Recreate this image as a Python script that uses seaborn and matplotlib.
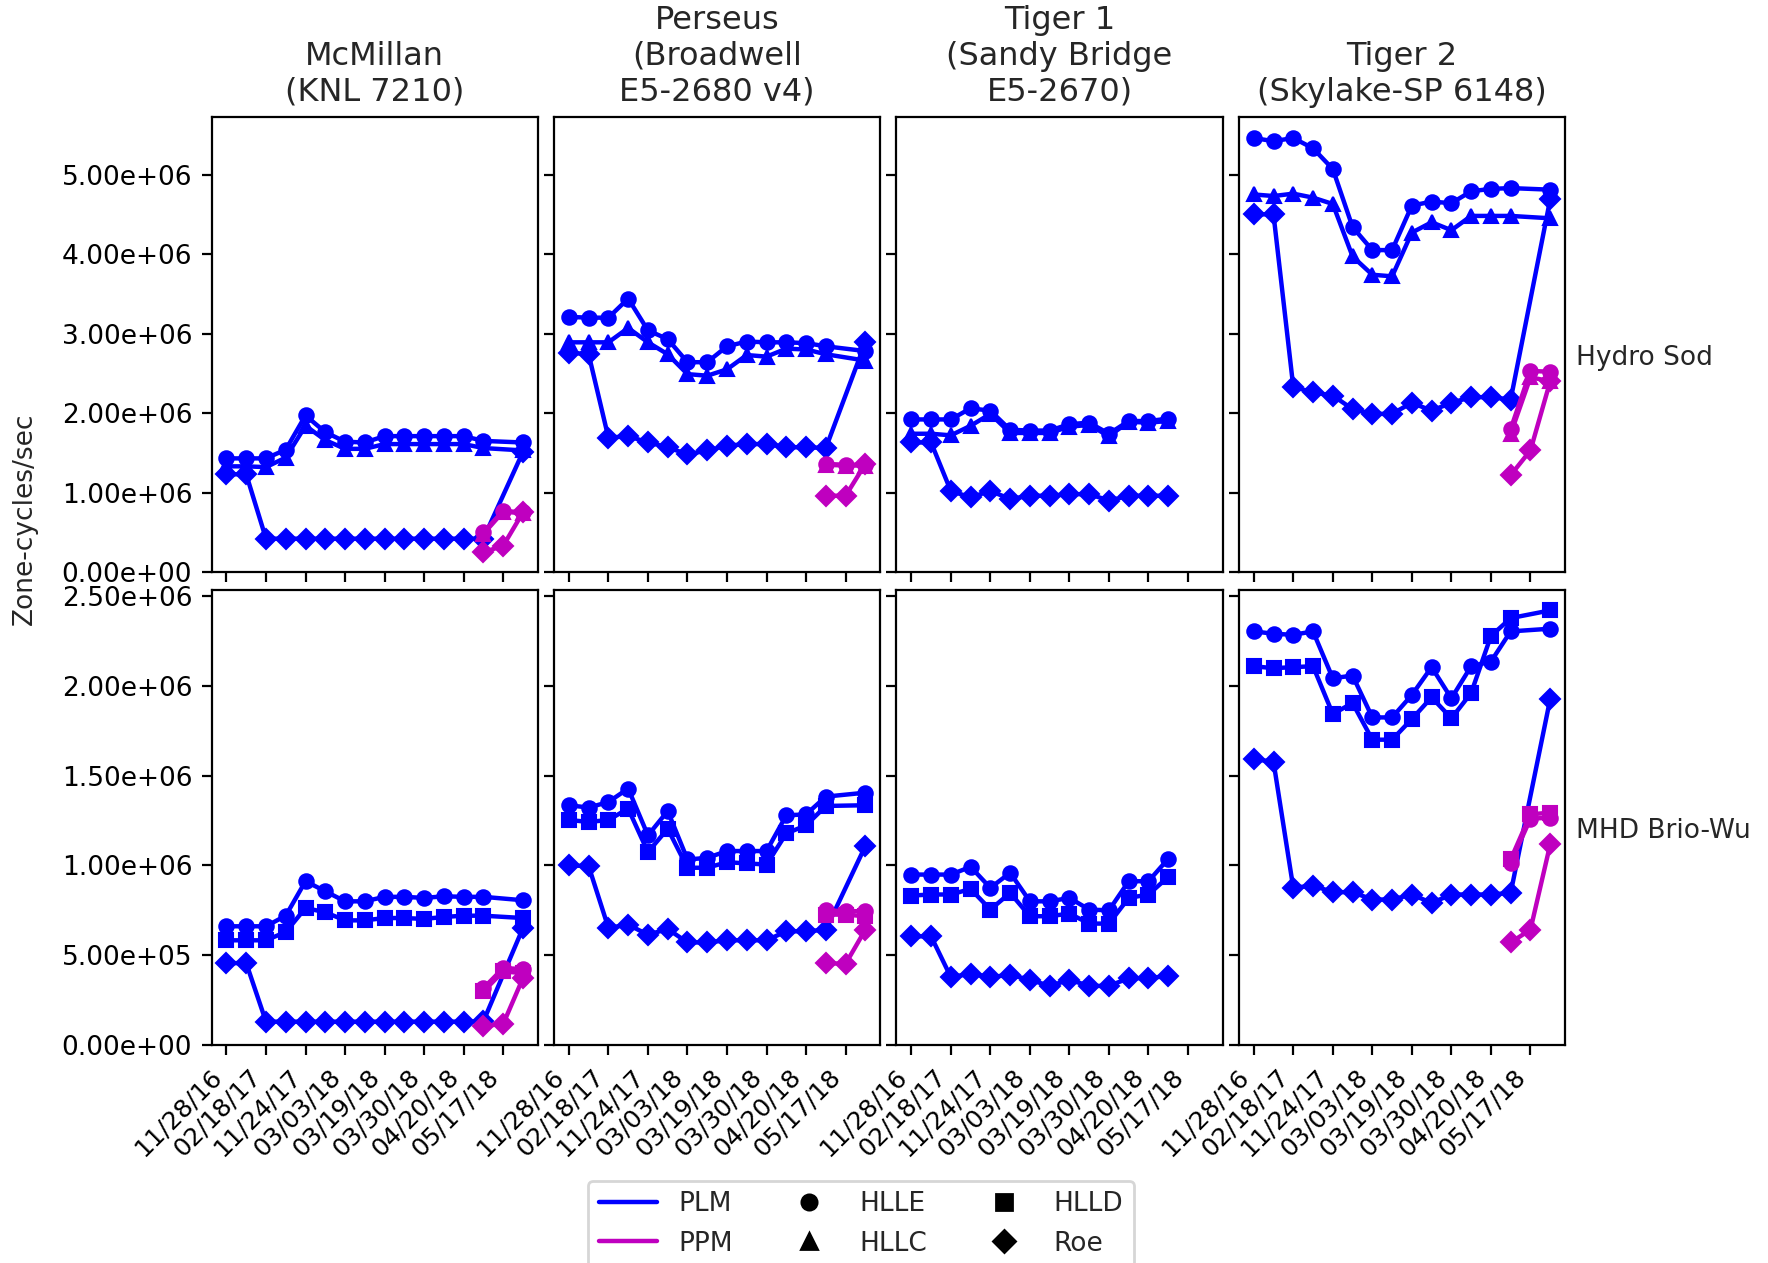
import numpy as np
import pandas as pd
import matplotlib
matplotlib.use('Agg')
import matplotlib.pyplot as plt
from matplotlib.lines import Line2D
from matplotlib.ticker import FormatStrFormatter
import seaborn as sns

## Data (values in 1e6 zone-cycles/sec), x = run index 0..15
x_pos       = list(range(16))
x_ppm       = [13, 14, 15]
tick_labels = ['11/28/16', '02/18/17', '11/24/17', '03/03/18',
               '03/19/18', '03/30/18', '04/20/18', '05/17/18']
machines    = ['McMillan\n(KNL 7210)', 'Perseus\n(Broadwell\nE5-2680 v4)',
               'Tiger 1\n(Sandy Bridge\nE5-2670)', 'Tiger 2\n(Skylake-SP 6148)']
problems    = ['Hydro Sod', 'MHD Brio-Wu']

# Hydro Sod
mcm_sod_plm_hlle = [1.43, 1.43, 1.43, 1.54, 1.97, 1.76, 1.64, 1.63, 1.71, 1.71, 1.71, 1.71, 1.71, 1.65, None, 1.63]
mcm_sod_plm_hllc = [1.33, 1.33, 1.32, 1.44, 1.84, 1.66, 1.55, 1.55, 1.61, 1.61, 1.61, 1.61, 1.61, 1.56, None, 1.53]
mcm_sod_plm_roe  = [1.23, 1.23, 0.42, 0.42, 0.42, 0.42, 0.42, 0.42, 0.42, 0.42, 0.42, 0.42, 0.42, 0.42, None, 1.51]
mcm_sod_ppm_hlle = [0.50, 0.77, 0.75]
mcm_sod_ppm_hllc = [0.48, 0.76, 0.74]
mcm_sod_ppm_roe  = [0.25, 0.33, 0.75]

per_sod_plm_hlle = [3.21, 3.20, 3.20, 3.44, 3.04, 2.93, 2.64, 2.64, 2.84, 2.90, 2.89, 2.89, 2.88, 2.84, None, 2.78]
per_sod_plm_hllc = [2.89, 2.89, 2.89, 3.07, 2.89, 2.74, 2.49, 2.47, 2.55, 2.73, 2.71, 2.81, 2.80, 2.74, None, 2.66]
per_sod_plm_roe  = [2.76, 2.74, 1.69, 1.71, 1.63, 1.57, 1.48, 1.53, 1.59, 1.61, 1.61, 1.57, 1.57, 1.56, None, 2.89]
per_sod_ppm_hlle = [1.36, 1.35, 1.35]
per_sod_ppm_hllc = [1.35, 1.34, 1.34]
per_sod_ppm_roe  = [0.96, 0.96, 1.36]

tg1_sod_plm_hlle = [1.92, 1.92, 1.92, 2.06, 2.03, 1.79, 1.78, 1.78, 1.86, 1.88, 1.74, 1.90, 1.90, 1.93, None, None]
tg1_sod_plm_hllc = [1.74, 1.74, 1.72, 1.84, 1.99, 1.75, 1.75, 1.75, 1.83, 1.85, 1.71, 1.89, 1.88, 1.90, None, None]
tg1_sod_plm_roe  = [1.63, 1.63, 1.02, 0.94, 1.02, 0.92, 0.96, 0.96, 0.98, 0.98, 0.90, 0.96, 0.96, 0.96, None, None]

tg2_sod_plm_hlle = [5.46, 5.42, 5.46, 5.33, 5.07, 4.34, 4.05, 4.05, 4.61, 4.66, 4.64, 4.79, 4.82, 4.83, None, 4.81]
tg2_sod_plm_hllc = [4.75, 4.73, 4.76, 4.71, 4.63, 3.97, 3.74, 3.72, 4.27, 4.40, 4.30, 4.48, 4.48, 4.48, None, 4.45]
tg2_sod_plm_roe  = [4.50, 4.50, 2.33, 2.26, 2.22, 2.05, 1.99, 1.99, 2.13, 2.03, 2.13, 2.20, 2.20, 2.17, None, 4.69]
tg2_sod_ppm_hlle = [1.80, 2.53, 2.52]
tg2_sod_ppm_hllc = [1.74, 2.45, 2.40]
tg2_sod_ppm_roe  = [1.22, 1.53, 2.40]

# MHD Brio-Wu
mcm_bw_plm_hlle = [0.661, 0.661, 0.661, 0.720, 0.912, 0.856, 0.800, 0.800, 0.825, 0.825, 0.819, 0.828, 0.825, 0.825, None, 0.806]
mcm_bw_plm_hlld = [0.583, 0.583, 0.583, 0.629, 0.763, 0.739, 0.694, 0.694, 0.707, 0.707, 0.702, 0.713, 0.720, 0.720, None, 0.707]
mcm_bw_plm_roe  = [0.456, 0.456, 0.130, 0.130, 0.130, 0.130, 0.130, 0.130, 0.130, 0.130, 0.130, 0.130, 0.130, 0.132, None, 0.651]
mcm_bw_ppm_hlle = [0.316, 0.428, 0.423]
mcm_bw_ppm_hlld = [0.298, 0.410, 0.400]
mcm_bw_ppm_roe  = [0.106, 0.117, 0.372]

per_bw_plm_hlle = [1.335, 1.322, 1.353, 1.428, 1.167, 1.303, 1.033, 1.042, 1.080, 1.080, 1.080, 1.279, 1.284, 1.383, None, 1.405]
per_bw_plm_hlld = [1.253, 1.242, 1.253, 1.316, 1.074, 1.204, 0.987, 0.987, 1.018, 1.011, 1.005, 1.178, 1.223, 1.331, None, 1.335]
per_bw_plm_roe  = [1.000, 0.996, 0.652, 0.670, 0.614, 0.646, 0.571, 0.571, 0.583, 0.583, 0.583, 0.633, 0.633, 0.642, None, 1.108]
per_bw_ppm_hlle = [0.750, 0.745, 0.745]
per_bw_ppm_hlld = [0.726, 0.726, 0.717]
per_bw_ppm_roe  = [0.456, 0.452, 0.642]

tg1_bw_plm_hlle = [0.949, 0.949, 0.949, 0.992, 0.875, 0.959, 0.800, 0.800, 0.819, 0.754, 0.750, 0.912, 0.912, 1.037, None, None]
tg1_bw_plm_hlld = [0.832, 0.838, 0.838, 0.869, 0.754, 0.847, 0.717, 0.717, 0.732, 0.676, 0.676, 0.819, 0.838, 0.936, None, None]
tg1_bw_plm_roe  = [0.605, 0.605, 0.378, 0.397, 0.378, 0.391, 0.363, 0.329, 0.363, 0.329, 0.329, 0.372, 0.372, 0.385, None, None]

tg2_bw_plm_hlle = [2.303, 2.290, 2.284, 2.303, 2.042, 2.057, 1.824, 1.824, 1.949, 2.104, 1.930, 2.109, 2.135, 2.303, None, 2.318]
tg2_bw_plm_hlld = [2.109, 2.098, 2.104, 2.109, 1.843, 1.904, 1.700, 1.700, 1.815, 1.936, 1.819, 1.960, 2.277, 2.377, None, 2.420]
tg2_bw_plm_roe  = [1.592, 1.577, 0.875, 0.888, 0.851, 0.851, 0.810, 0.810, 0.838, 0.791, 0.838, 0.838, 0.838, 0.847, None, 1.927]
tg2_bw_ppm_hlle = [1.015, 1.260, 1.266]
tg2_bw_ppm_hlld = [1.033, 1.284, 1.294]
tg2_bw_ppm_roe  = [0.571, 0.642, 1.117]

## Panels: (row, col) -> list of (recon, solver, values)
panels = {
    (0, 0): [('PLM', 'HLLE', mcm_sod_plm_hlle), ('PLM', 'HLLC', mcm_sod_plm_hllc), ('PLM', 'Roe', mcm_sod_plm_roe),
             ('PPM', 'HLLE', mcm_sod_ppm_hlle), ('PPM', 'HLLC', mcm_sod_ppm_hllc), ('PPM', 'Roe', mcm_sod_ppm_roe)],
    (0, 1): [('PLM', 'HLLE', per_sod_plm_hlle), ('PLM', 'HLLC', per_sod_plm_hllc), ('PLM', 'Roe', per_sod_plm_roe),
             ('PPM', 'HLLE', per_sod_ppm_hlle), ('PPM', 'HLLC', per_sod_ppm_hllc), ('PPM', 'Roe', per_sod_ppm_roe)],
    (0, 2): [('PLM', 'HLLE', tg1_sod_plm_hlle), ('PLM', 'HLLC', tg1_sod_plm_hllc), ('PLM', 'Roe', tg1_sod_plm_roe)],
    (0, 3): [('PLM', 'HLLE', tg2_sod_plm_hlle), ('PLM', 'HLLC', tg2_sod_plm_hllc), ('PLM', 'Roe', tg2_sod_plm_roe),
             ('PPM', 'HLLE', tg2_sod_ppm_hlle), ('PPM', 'HLLC', tg2_sod_ppm_hllc), ('PPM', 'Roe', tg2_sod_ppm_roe)],
    (1, 0): [('PLM', 'HLLE', mcm_bw_plm_hlle), ('PLM', 'HLLD', mcm_bw_plm_hlld), ('PLM', 'Roe', mcm_bw_plm_roe),
             ('PPM', 'HLLE', mcm_bw_ppm_hlle), ('PPM', 'HLLD', mcm_bw_ppm_hlld), ('PPM', 'Roe', mcm_bw_ppm_roe)],
    (1, 1): [('PLM', 'HLLE', per_bw_plm_hlle), ('PLM', 'HLLD', per_bw_plm_hlld), ('PLM', 'Roe', per_bw_plm_roe),
             ('PPM', 'HLLE', per_bw_ppm_hlle), ('PPM', 'HLLD', per_bw_ppm_hlld), ('PPM', 'Roe', per_bw_ppm_roe)],
    (1, 2): [('PLM', 'HLLE', tg1_bw_plm_hlle), ('PLM', 'HLLD', tg1_bw_plm_hlld), ('PLM', 'Roe', tg1_bw_plm_roe)],
    (1, 3): [('PLM', 'HLLE', tg2_bw_plm_hlle), ('PLM', 'HLLD', tg2_bw_plm_hlld), ('PLM', 'Roe', tg2_bw_plm_roe),
             ('PPM', 'HLLE', tg2_bw_ppm_hlle), ('PPM', 'HLLD', tg2_bw_ppm_hlld), ('PPM', 'Roe', tg2_bw_ppm_roe)],
}

colors  = {'PLM': '#0000ff', 'PPM': '#bf00bf'}
markers = {'HLLE': 'o', 'HLLC': '^', 'HLLD': 's', 'Roe': 'D'}
ylims   = [(0, 5.72e6), (0, 2.532e6)]

## Figure
sns.set_style('ticks', {'axes.edgecolor': 'black', 'xtick.color': 'black', 'ytick.color': 'black'})
plt.rcParams['font.family'] = ['DejaVu Sans']
fs = 9.5

fig, axes = plt.subplots(2, 4, figsize=(8.84, 6.315), dpi=200, sharex=True, sharey='row')
fig.subplots_adjust(left=0.1197, right=0.8852, top=0.9071, bottom=0.1726, wspace=0.05, hspace=0.04)

for (r, c), series in panels.items():
    ax = axes[r, c]
    rows = []
    for recon, solver, vals in series:
        xs = x_pos if recon == 'PLM' else x_ppm
        for xv, yv in zip(xs, vals):
            if yv is not None:
                rows.append({'x': xv, 'y': yv * 1e6, 'recon': recon, 'solver': solver})
    df = pd.DataFrame(rows)
    solvers = [s for s in markers if s in df['solver'].unique()]
    sns.lineplot(data=df, x='x', y='y', hue='recon', style='solver', hue_order=['PLM', 'PPM'],
                 style_order=solvers, palette=colors, markers=markers, dashes=False,
                 estimator=None, sort=True, legend=False, ax=ax, lw=1.6, ms=5.2)
    for ln in ax.lines:
        ln.set_markeredgecolor(ln.get_color())
    ax.set_ylim(ylims[r])
    ax.set_xlabel('')
    ax.set_ylabel('')
    ax.yaxis.set_major_formatter(FormatStrFormatter('%.2e'))
    ax.tick_params(labelsize=fs)
    for sp in ax.spines.values():
        sp.set_linewidth(0.8)
    if r == 0:
        ax.set_title(machines[c], fontsize=11.5)
    if c == 3:
        ax.text(1.035, 0.47, problems[r], transform=ax.transAxes, va='center', ha='left', fontsize=fs)

axes[1, 0].set_xticks(x_pos[::2])
for ax in axes[1]:
    ax.set_xticklabels(tick_labels, rotation=45, ha='right', fontsize=9)

fig.text(0.014, 0.589, 'Zone-cycles/sec', rotation=90, va='center', ha='center', fontsize=fs)

## Legend
handles = [Line2D([], [], color=colors['PLM'], lw=1.6, label='PLM'),
           Line2D([], [], color=colors['PPM'], lw=1.6, label='PPM'),
           Line2D([], [], color='k', ls='', marker='o', ms=5.5, label='HLLE'),
           Line2D([], [], color='k', ls='', marker='^', ms=5.5, label='HLLC'),
           Line2D([], [], color='k', ls='', marker='s', ms=5.5, label='HLLD'),
           Line2D([], [], color='k', ls='', marker='D', ms=5.5, label='Roe')]
fig.legend(handles=handles, ncol=3, loc='upper center', bbox_to_anchor=(0.487, 0.0755),
           fontsize=fs, frameon=True, columnspacing=1.8, handlelength=2.2)

fig.savefig('out.png', dpi=200)
